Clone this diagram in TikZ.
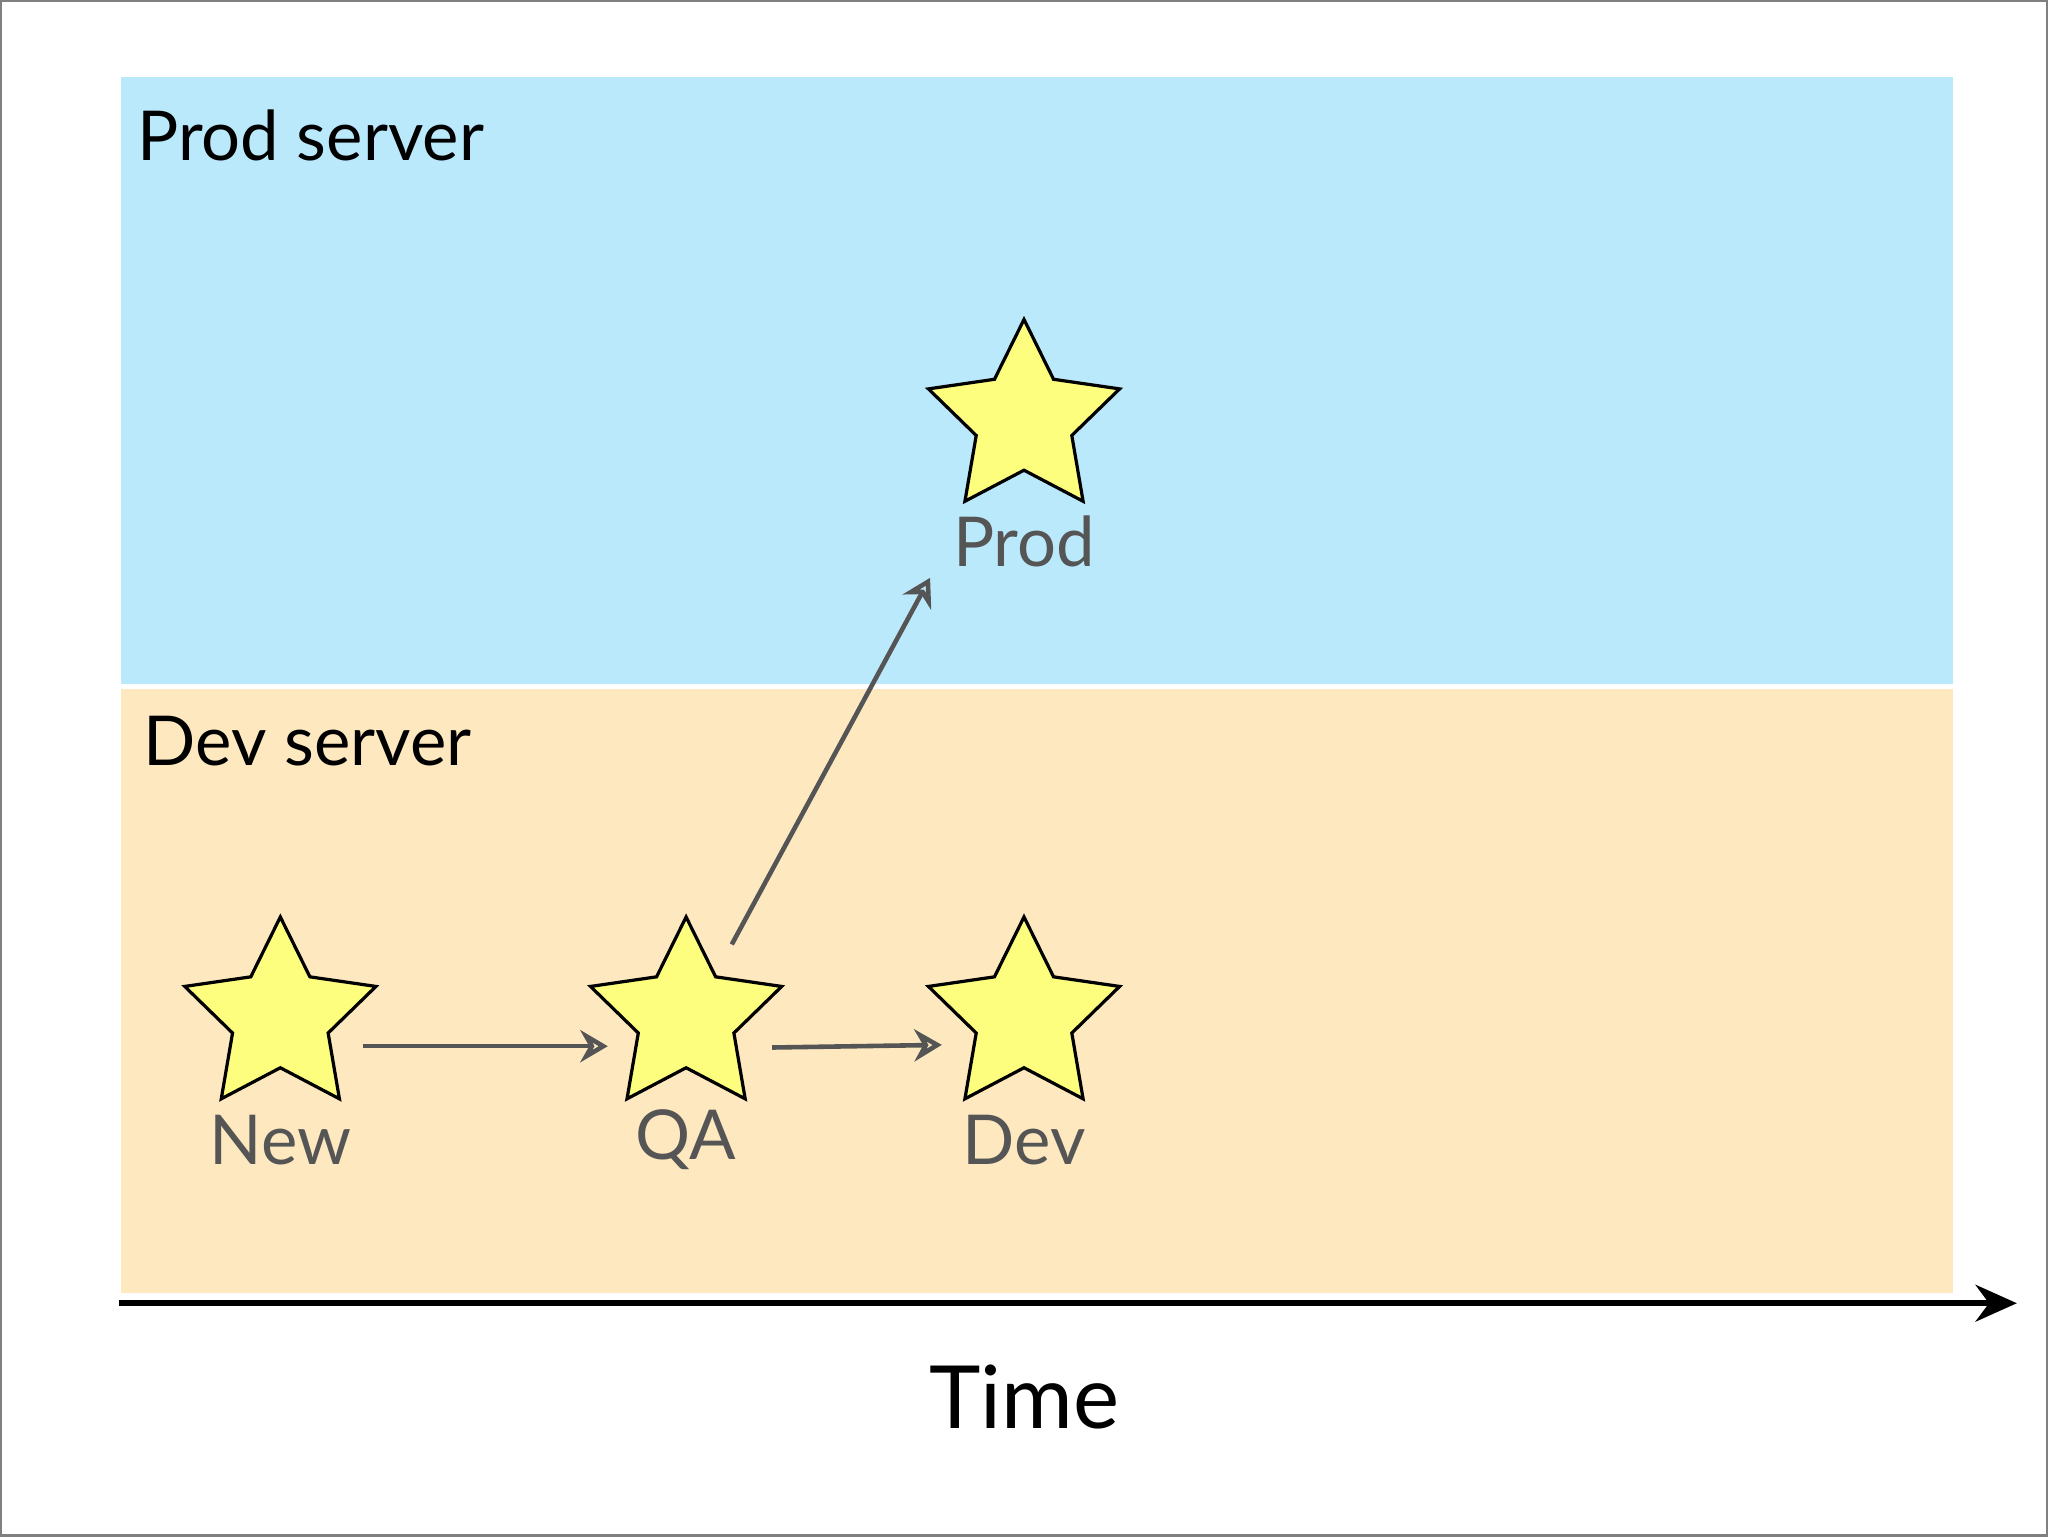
\documentclass[tikz,border=0pt]{standalone}
\usepackage{fontspec}
\setmainfont{Lato}
\usetikzlibrary{shapes.geometric,arrows.meta}
\definecolor{prodbg}{HTML}{BBE9FC}
\definecolor{devbg}{HTML}{FDE8BF}
\definecolor{starfill}{HTML}{FDFD7E}
\definecolor{lbl}{HTML}{555555}
\begin{document}
\begin{tikzpicture}[x=0.01cm,y=-0.01cm,
  st/.style={star,star points=5,star point ratio=2,minimum size=1.54cm,inner sep=0,fill=starfill,draw=black,line width=0.7pt},
  lab/.style={text=lbl,font=\fontsize{15}{15}\selectfont},
  conn/.style={draw=lbl,line width=1pt,-{Stealth[open,length=6pt,width=7pt]}},
  ttl/.style={font=\fontsize{15}{15}\selectfont,anchor=west}]
\draw[gray,line width=0.5pt] (0,0) rectangle (1568,1176);
\useasboundingbox (0,0) rectangle (1568,1176);
\fill[prodbg] (92,58) rectangle (1496,523);
\fill[devbg] (92,527) rectangle (1496,990);
\node[ttl] (pt) at (92,103) {Prod server};
\node[ttl] (dt) at (97,567) {Dev server};
\node[st] (snew) at (214,779) {};
\node[st] (sqa) at (525,779) {};
\node[st] (sdev) at (784,779) {};
\node[st] (sprod) at (784,321) {};
\node[lab] (lnew) at (214,873) {New};
\node[lab] (lqa) at (525,873) {QA};
\node[lab] (ldev) at (784,873) {Dev};
\node[lab] (lprod) at (784,414) {Prod};
\coordinate (a1) at (277,801); \coordinate (a2) at (465,801);
\coordinate (b1) at (591,802); \coordinate (b2) at (721,800);
\coordinate (c1) at (560,723); \coordinate (c2) at (712,442);
\draw[conn] (a1) -- (a2);
\draw[conn] (b1) -- (b2);
\draw[conn] (c1) -- (c2);
\coordinate (t0) at (90,998); \coordinate (t1) at (1545,998);
\draw[line width=1.3pt,-{Stealth[length=9pt,width=8pt]}] (t0) -- (t1);
\node[font=\fontsize{19}{19}\selectfont] (time) at (784,1070) {Time};
\end{tikzpicture}
\end{document}
